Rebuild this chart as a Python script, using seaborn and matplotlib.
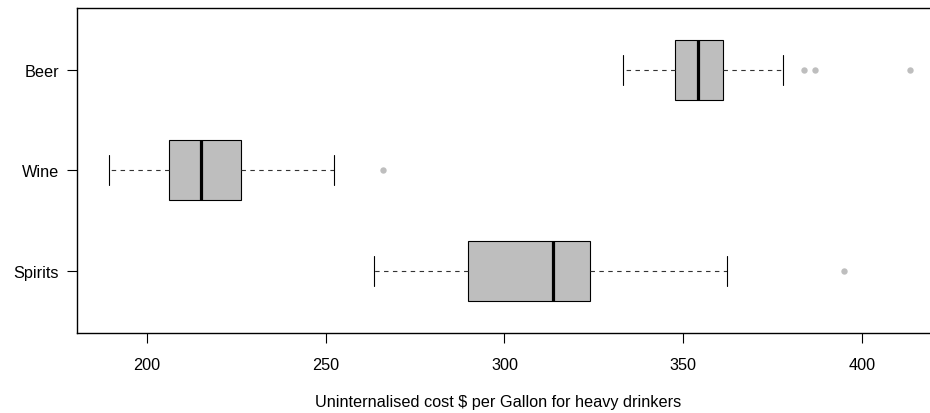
import matplotlib
matplotlib.use("Agg")
import matplotlib.pyplot as plt
import numpy as np
import pandas as pd
import seaborn as sns

# Five-number summaries (whisker ends, quartiles, median) per drink type
drinks = ["Beer", "Wine", "Spirits"]
whisker_low = [333.2, 189.4, 263.5]
q1 = [347.8, 206.2, 289.8]
median = [354.2, 215.1, 313.7]
q3 = [361.0, 226.2, 324.0]
whisker_high = [377.9, 252.2, 362.2]

# Points beyond the whiskers
outlier_drink = ["Beer", "Beer", "Beer", "Wine", "Spirits"]
outlier_cost = [383.8, 386.9, 413.4, 265.9, 395.0]

x_ticks = [200, 250, 300, 350, 400]
x_label = "Uninternalised cost \\$ per Gallon for heavy drinkers"

# Long table: the five summary values of each drink give exactly those quartiles
rows = []
for i, d in enumerate(drinks):
    for v in (whisker_low[i], q1[i], median[i], q3[i], whisker_high[i]):
        rows.append({"drink": d, "cost": v})
box_df = pd.DataFrame(rows)
out_df = pd.DataFrame({"drink": outlier_drink, "cost": outlier_cost})

sns.set_theme(style="ticks")
plt.rcParams["font.family"] = ["Liberation Sans", "DejaVu Sans"]
FS = 11.7
plt.rcParams["font.size"] = FS

fig = plt.figure(figsize=(9.3, 4.14), dpi=100)
ax = fig.add_axes([77 / 930, 1 - 334 / 414, (942 - 77) / 930, (334 - 8.7) / 414])

sns.boxplot(
    data=box_df, x="cost", y="drink", order=drinks, orient="h",
    width=0.6, whis=(0, 100), showfliers=False,
    color="#BEBEBE", saturation=1, linecolor="black", linewidth=0.8,
    medianprops=dict(linewidth=2.3, color="black", solid_capstyle="butt"),
    whiskerprops=dict(linestyle=(0, (4, 4)), linewidth=0.8, color="#333333"),
    capprops=dict(linewidth=0.8, color="black"),
    ax=ax,
)

sns.stripplot(
    data=out_df, x="cost", y="drink", order=drinks, orient="h",
    jitter=False, color="#BEBEBE", size=4.6, linewidth=0, ax=ax,
)

ax.set_xlim(180.4, 422.4)
ax.set_ylim(2.62, -0.62)
ax.set_xticks(x_ticks)
ax.set_xticklabels([str(t) for t in x_ticks])
ax.set_xlabel(x_label, fontsize=FS, labelpad=18, color="black")
ax.xaxis.set_label_coords((498 - 77) / 865, -0.0)
ax.xaxis.label.set_va("top")
ax.set_ylabel("")

for s in ax.spines.values():
    s.set_visible(True)
    s.set_color("black")
    s.set_linewidth(1.0)

ax.tick_params(axis="both", direction="out", length=7, width=0.8, color="black",
               labelsize=FS, labelcolor="black")
ax.tick_params(axis="x", pad=10)
ax.tick_params(axis="y", pad=6)

# place the axis title below the tick labels (center near y = 403 px)
ax.xaxis.set_label_coords((498 - 77) / 865, -(395 - 334) / (334 - 8.7))

fig.savefig("out.png", dpi=100)
